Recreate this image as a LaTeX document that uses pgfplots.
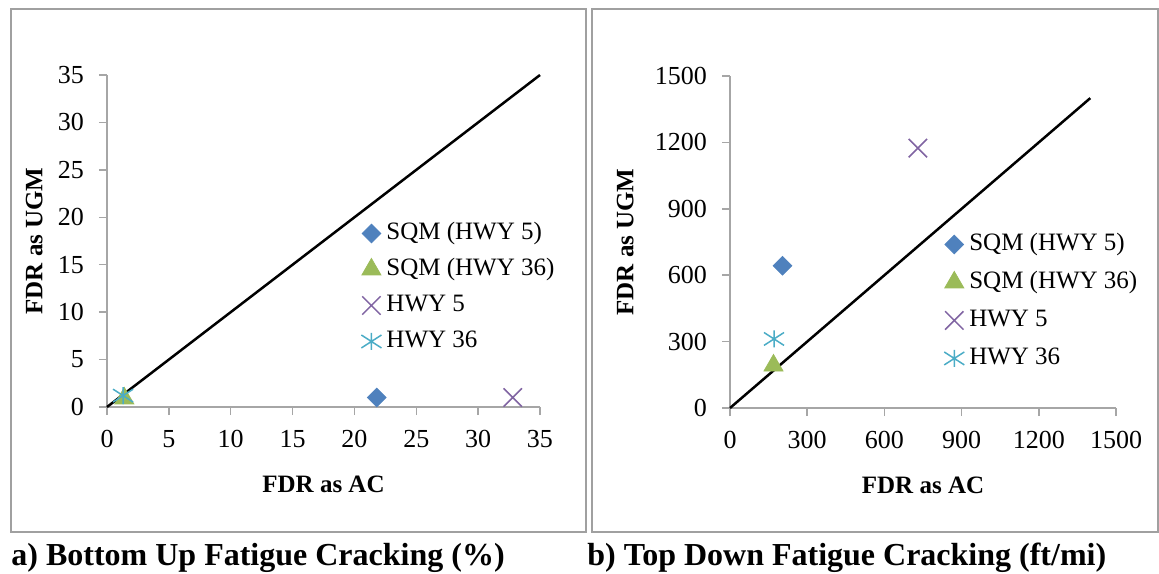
\documentclass[border=0pt]{standalone}
\usepackage{fontspec}
\setmainfont{Liberation Serif}
\usepackage{pgfplots}
\pgfplotsset{compat=1.18}
\definecolor{cA}{RGB}{79,129,189}
\definecolor{cB}{RGB}{155,187,89}
\definecolor{cC}{RGB}{128,100,162}
\definecolor{cD}{RGB}{75,172,198}
\definecolor{axgray}{RGB}{166,166,166}
\definecolor{boxgray}{RGB}{160,160,160}
\pgfdeclareplotmark{xstar}{%
 \pgfpathmoveto{\pgfqpoint{0pt}{-\pgfplotmarksize}}\pgfpathlineto{\pgfqpoint{0pt}{\pgfplotmarksize}}%
 \pgfpathmoveto{\pgfqpoint{-1.18\pgfplotmarksize}{-.76\pgfplotmarksize}}\pgfpathlineto{\pgfqpoint{1.18\pgfplotmarksize}{.76\pgfplotmarksize}}%
 \pgfpathmoveto{\pgfqpoint{-1.18\pgfplotmarksize}{.76\pgfplotmarksize}}\pgfpathlineto{\pgfqpoint{1.18\pgfplotmarksize}{-.76\pgfplotmarksize}}%
 \pgfusepathqstroke}
\pgfplotsset{
 myaxis/.style={
  scale only axis,
  axis lines*=left,
  axis line style={axgray, line width=0.75bp},
  tick align=outside,
  major tick length=4bp,
  tick style={axgray, line width=0.75bp},
  tick label style={font=\fontsize{13bp}{15bp}\selectfont},
  /pgf/number format/assume math mode=true,
  /pgf/number format/1000 sep={},
  xticklabel shift=4bp,
  yticklabel shift=4bp,
  label style={font=\bfseries\fontsize{12.5bp}{15bp}\selectfont, inner sep=0pt},
  xlabel style={at={(axis description cs:0.5,0)}, anchor=north, yshift=-34.5bp},
  clip=false,
  legend cell align=left,
  legend image code/.code={\draw[##1] plot coordinates {(0bp,0bp)};},
  legend style={draw=none, fill=none, anchor=north west, inner sep=0pt,
    column sep=2.5bp, font=\fontsize{12.5bp}{15bp}\selectfont,
    nodes={inner sep=0pt, text height=9bp, text depth=3bp}},
 },
 sA/.style={only marks, mark=square*, mark size=3.3bp, mark options={rotate=45, fill=cA, draw=cA}},
 sB/.style={only marks, mark=triangle*, mark size=5.5bp, mark options={fill=cB, draw=cB}},
 sC/.style={only marks, mark=x, mark size=6.5bp, mark options={draw=cC, line width=0.75bp}},
 sD/.style={only marks, mark=xstar, mark size=4.25bp, mark options={draw=cD, line width=0.75bp}},
}
\pgfplotstableread{
x y
21.8 1.0
}\leftA
\pgfplotstableread{
x y
1.4 0.9
}\leftB
\pgfplotstableread{
x y
32.8 1.0
}\leftC
\pgfplotstableread{
x y
1.3 1.2
}\leftD
\pgfplotstableread{
x y
204 643
}\rightA
\pgfplotstableread{
x y
169 192
}\rightB
\pgfplotstableread{
x y
730 1174
}\rightC
\pgfplotstableread{
x y
171 312
}\rightD
\begin{document}
\begin{tikzpicture}
\useasboundingbox (0,0) rectangle (579.5bp,-287bp);
\draw[boxgray, line width=1bp] (5.5bp,-4.5bp) rectangle (293bp,-266bp);
\draw[boxgray, line width=1bp] (296bp,-4.5bp) rectangle (579bp,-266bp);
\node[anchor=base west, inner sep=0pt, font=\bfseries\fontsize{16bp}{19bp}\selectfont] at (5.5bp,-282.5bp) {a) Bottom Up Fatigue Cracking (\%)};
\node[anchor=base west, inner sep=0pt, font=\bfseries\fontsize{16bp}{19bp}\selectfont] at (293.5bp,-282.5bp) {b) Top Down Fatigue Cracking (ft/mi)};

\begin{axis}[myaxis,
  at={(53.5bp,-203.5bp)}, anchor=south west,
  width=216.5bp, height=166bp,
  xmin=0, xmax=35, ymin=0, ymax=35,
  xtick={0,5,...,35}, ytick={0,5,...,35},
  xlabel={FDR as AC}, ylabel={FDR as UGM},
  ylabel style={at={(axis description cs:-0.148,0.5)}, anchor=south},
  legend style={at={(axis description cs:0.5866,0.560)}, row sep=6bp},
]
\addplot[sA] table {\leftA};
\addplot[sB] table {\leftB};
\addplot[sC] table {\leftC};
\addplot[sD] table {\leftD};
\addplot[black, line width=1.25bp, forget plot] coordinates {(0,0) (35,35)};
\legend{SQM (HWY 5), SQM (HWY 36), HWY 5, HWY 36}
\end{axis}

\begin{axis}[myaxis,
  at={(365bp,-204bp)}, anchor=south west,
  width=193bp, height=166bp,
  xmin=0, xmax=1500, ymin=0, ymax=1500,
  xtick={0,300,...,1500}, ytick={0,300,...,1500},
  xlabel={FDR as AC}, ylabel={FDR as UGM},
  ylabel style={at={(axis description cs:-0.2487,0.5)}, anchor=south},
  legend style={at={(axis description cs:0.554,0.530)}, row sep=7bp},
]
\addplot[sA] table {\rightA};
\addplot[sB] table {\rightB};
\addplot[sC] table {\rightC};
\addplot[sD] table {\rightD};
\addplot[black, line width=1.25bp, forget plot] coordinates {(0,0) (1400,1400)};
\legend{SQM (HWY 5), SQM (HWY 36), HWY 5, HWY 36}
\end{axis}
\end{tikzpicture}
\end{document}
